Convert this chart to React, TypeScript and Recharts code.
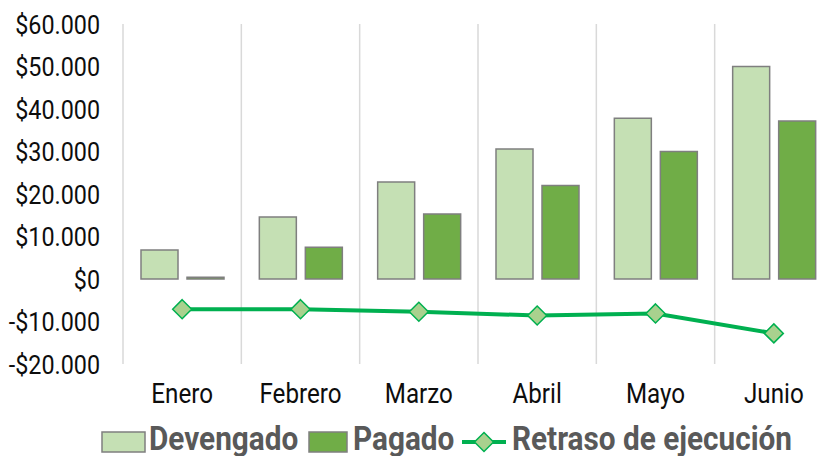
import React from 'react';
import { ComposedChart, Bar, Line, XAxis, YAxis, CartesianGrid, Legend } from 'recharts';

const months = ['Enero', 'Febrero', 'Marzo', 'Abril', 'Mayo', 'Junio'];
const devengado = [6800, 14600, 22800, 30600, 37800, 50000];
const pagado = [400, 7500, 15300, 22000, 30000, 37200];
const retraso = [-7100, -7100, -7700, -8600, -8100, -12800];
const yTicks = [-20000, -10000, 0, 10000, 20000, 30000, 40000, 50000, 60000];

const data = months.map((m, i) => ({ month: m, devengado: devengado[i], pagado: pagado[i], retraso: retraso[i] }));

const C_DEV = '#c5e0b4';
const C_PAG = '#70ad47';
const C_LINE = '#00b050';
const C_DIAM = '#a9d18e';
const C_BORDER = '#7f7f7f';
const FONT = 'Roboto, "Noto Sans", sans-serif';

const fmt = (v: number) => {
  const s = String(Math.abs(v)).replace(/\B(?=(\d{3})+(?!\d))/g, '.');
  return (v < 0 ? '-$' : '$') + s;
};

const YTick = (props: any) => {
  const { x, y, payload } = props;
  return (
    <text transform={`translate(${x - 23},${y}) scale(0.88,1)`} textAnchor="end" dy="0.36em" fontSize={26.5} fontFamily={FONT} fill="#0d0d0d">
      {fmt(payload.value)}
    </text>
  );
};

const XTick = (props: any) => {
  const { x, y, payload } = props;
  return (
    <text transform={`translate(${x},${y + 39}) scale(0.88,1)`} textAnchor="middle" fontSize={27.5} fontFamily={FONT} fill="#0d0d0d">
      {payload.value}
    </text>
  );
};

const Diamond = (props: any) => {
  const { cx, cy, index } = props;
  const r = 9.5;
  return (
    <polygon key={`d-${index}`} points={`${cx},${cy - r} ${cx + r},${cy} ${cx},${cy + r} ${cx - r},${cy}`} fill={C_DIAM} stroke={C_LINE} strokeWidth={1.5} />
  );
};

const LegendContent = () => {
  const t = (x: number, label: string) => (
    <text transform={`translate(${x},36) scale(0.875,1)`} fontSize={34} fontWeight="bold" fontFamily={FONT} fill="#595959">{label}</text>
  );
  const r = 9.5;
  return (
    <svg width={825} height={42} style={{ display: 'block' }}>
      <rect x={102} y={18} width={43} height={20} fill={C_DEV} stroke={C_BORDER} strokeWidth={1.5} />
      {t(149, 'Devengado')}
      <rect x={309} y={18} width={38} height={20} fill={C_PAG} stroke={C_BORDER} strokeWidth={1.5} />
      {t(353, 'Pagado')}
      <line x1={462} y1={28} x2={506} y2={28} stroke={C_LINE} strokeWidth={4} />
      <polygon points={`484,${28 - r} ${484 + r},28 484,${28 + r} ${484 - r},28`} fill={C_DIAM} stroke={C_LINE} strokeWidth={1.5} />
      {t(512, 'Retraso de ejecución')}
    </svg>
  );
};

export default function App() {
  return (
    <div style={{ position: 'fixed', left: 0, top: 0, width: 825, height: 456, overflow: 'hidden', background: '#fff' }}>
      <ComposedChart width={850} height={456} data={data} margin={{ top: 24, right: 17, bottom: 0, left: 0 }} barSize={37} barGap={9}>
        <CartesianGrid
          horizontal={false}
          stroke="#d9d9d9"
          strokeWidth={1.5}
          verticalCoordinatesGenerator={({ offset }: any) => months.map((_, i) => offset.left + (offset.width * i) / months.length).concat([offset.left + offset.width])}
        />
        <XAxis dataKey="month" height={50} axisLine={false} tickLine={false} tickSize={0} tickMargin={0} tick={<XTick />} interval={0} />
        <YAxis width={123} domain={[-20000, 60000]} ticks={yTicks} axisLine={false} tickLine={false} tickSize={0} tickMargin={0} tick={<YTick />} interval={0} />
        <Bar dataKey="devengado" fill={C_DEV} stroke={C_BORDER} strokeWidth={1.5} isAnimationActive={false} />
        <Bar dataKey="pagado" fill={C_PAG} stroke={C_BORDER} strokeWidth={1.5} isAnimationActive={false} />
        <Line dataKey="retraso" stroke={C_LINE} strokeWidth={4} dot={<Diamond />} activeDot={false} isAnimationActive={false} />
        <Legend verticalAlign="bottom" height={42} content={<LegendContent />} wrapperStyle={{ left: 0, bottom: 0, width: 825, height: 42 }} />
      </ComposedChart>
    </div>
  );
}
